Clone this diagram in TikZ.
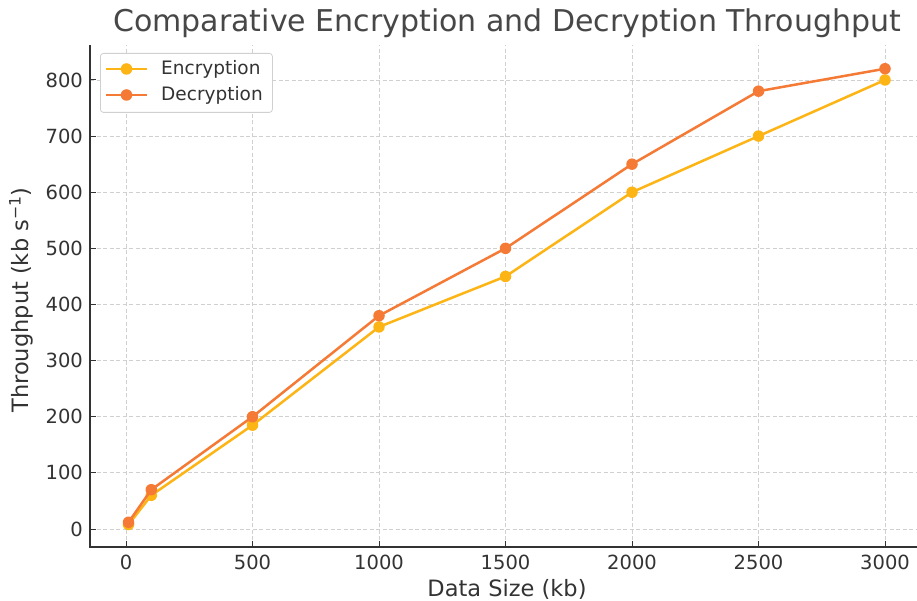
\documentclass[tikz,border=0pt]{standalone}
\usepackage{fontspec}
\usetikzlibrary{calc}
\setmainfont{DejaVu Sans}
\definecolor{enc}{HTML}{FDB515}
\definecolor{dec}{HTML}{F47A35}
\definecolor{txt}{HTML}{333333}
\definecolor{gridc}{HTML}{D0D0D0}
\tikzset{
  gridline/.style={gridc, line width=0.8pt, dash pattern=on 4pt off 2.5pt},
  spine/.style={txt, line width=1.3pt},
  tickmark/.style={txt, line width=1pt},
  ticklabel/.style={txt, font=\fontsize{19.5}{19.5}\selectfont, inner sep=0pt},
  series/.style={line width=2.5pt, line join=round},
  dot/.style={circle, fill=#1, inner sep=0pt, minimum size=11.5pt},
  axislabel/.style={txt, font=\fontsize{22.5}{22.5}\selectfont, inner sep=0pt},
  legendtext/.style={txt, anchor=west, font=\fontsize{18.5}{18.5}\selectfont, inner sep=0pt},
}
\begin{document}
\begin{tikzpicture}[x=1pt,y=1pt]
\useasboundingbox (0,0) rectangle (917,600);
\fill[white] (0,0) rectangle (917,600);

% plotting area in data units (kb on x, kb/s on y)
\begin{scope}[shift={(126pt,71pt)}, x=0.253pt, y=0.5613pt]
  % grid
  \foreach \gx in {0,500,...,3000}
    \draw[gridline] (\gx,-32) -- (\gx,862);
  \foreach \gy in {0,100,...,800}
    \draw[gridline] (-142,\gy) -- (3126,\gy);

  % spines
  \coordinate (corner) at (-142,-32);
  \coordinate (ytop) at (-142,862);
  \coordinate (xend) at (3126,-32);
  \draw[spine] (ytop) -- (corner) -- (xend);

  % x ticks and labels
  \foreach \gx in {0,500,...,3000} {
    \draw[tickmark] (\gx,-32) -- ++(0,6pt);
    \node[ticklabel, anchor=north] (xl\gx) at ([yshift=-8pt]\gx,-32) {\gx};
  }
  % y ticks and labels
  \foreach \gy in {0,100,...,800} {
    \draw[tickmark] (-142,\gy) -- ++(6pt,0);
    \node[ticklabel, anchor=east] (yl\gy) at ([xshift=-7pt]-142,\gy) {\gy};
  }

  % encryption series
  \foreach \n/\px/\py in {1/10/8,2/100/60,3/500/185,4/1000/360,5/1500/450,6/2000/600,7/2500/700,8/3000/800}
    \coordinate (e\n) at (\px,\py);
  \draw[series, enc] (e1) -- (e2) -- (e3) -- (e4) -- (e5) -- (e6) -- (e7) -- (e8);
  \foreach \n in {1,...,8}
    \node[dot=enc] (em\n) at (e\n) {};

  % decryption series
  \foreach \n/\px/\py in {1/10/12,2/100/70,3/500/200,4/1000/380,5/1500/500,6/2000/650,7/2500/780,8/3000/820}
    \coordinate (d\n) at (\px,\py);
  \draw[series, dec] (d1) -- (d2) -- (d3) -- (d4) -- (d5) -- (d6) -- (d7) -- (d8);
  \foreach \n in {1,...,8}
    \node[dot=dec] (dm\n) at (d\n) {};
\end{scope}

% title and axis labels
\node[text=txt!90!white, font=\fontsize{30}{30}\selectfont, inner sep=0pt] (title) at (507,577) {Comparative Encryption and Decryption Throughput};
\node[axislabel] (xlabel) at (507,11) {Data Size (kb)};
\node[axislabel, rotate=90] (ylabel) at (21,300) {Throughput (kb s\textsuperscript{−1})};

% legend
\node[draw=gridc, fill=white, rounded corners=3pt, line width=0.8pt,
      minimum width=172pt, minimum height=59pt, anchor=north west, inner sep=0pt] (legend) at (100,547) {};
\coordinate (la1) at (106,531);
\coordinate (lb1) at (147,531);
\coordinate (la2) at (106,505);
\coordinate (lb2) at (147,505);
\draw[series, enc] (la1) -- (lb1);
\node[dot=enc] (lm1) at ($(la1)!0.5!(lb1)$) {};
\draw[series, dec] (la2) -- (lb2);
\node[dot=dec] (lm2) at ($(la2)!0.5!(lb2)$) {};
\node[legendtext] (lt1) at (161,531) {Encryption};
\node[legendtext] (lt2) at (161,505) {Decryption};
\end{tikzpicture}
\end{document}
